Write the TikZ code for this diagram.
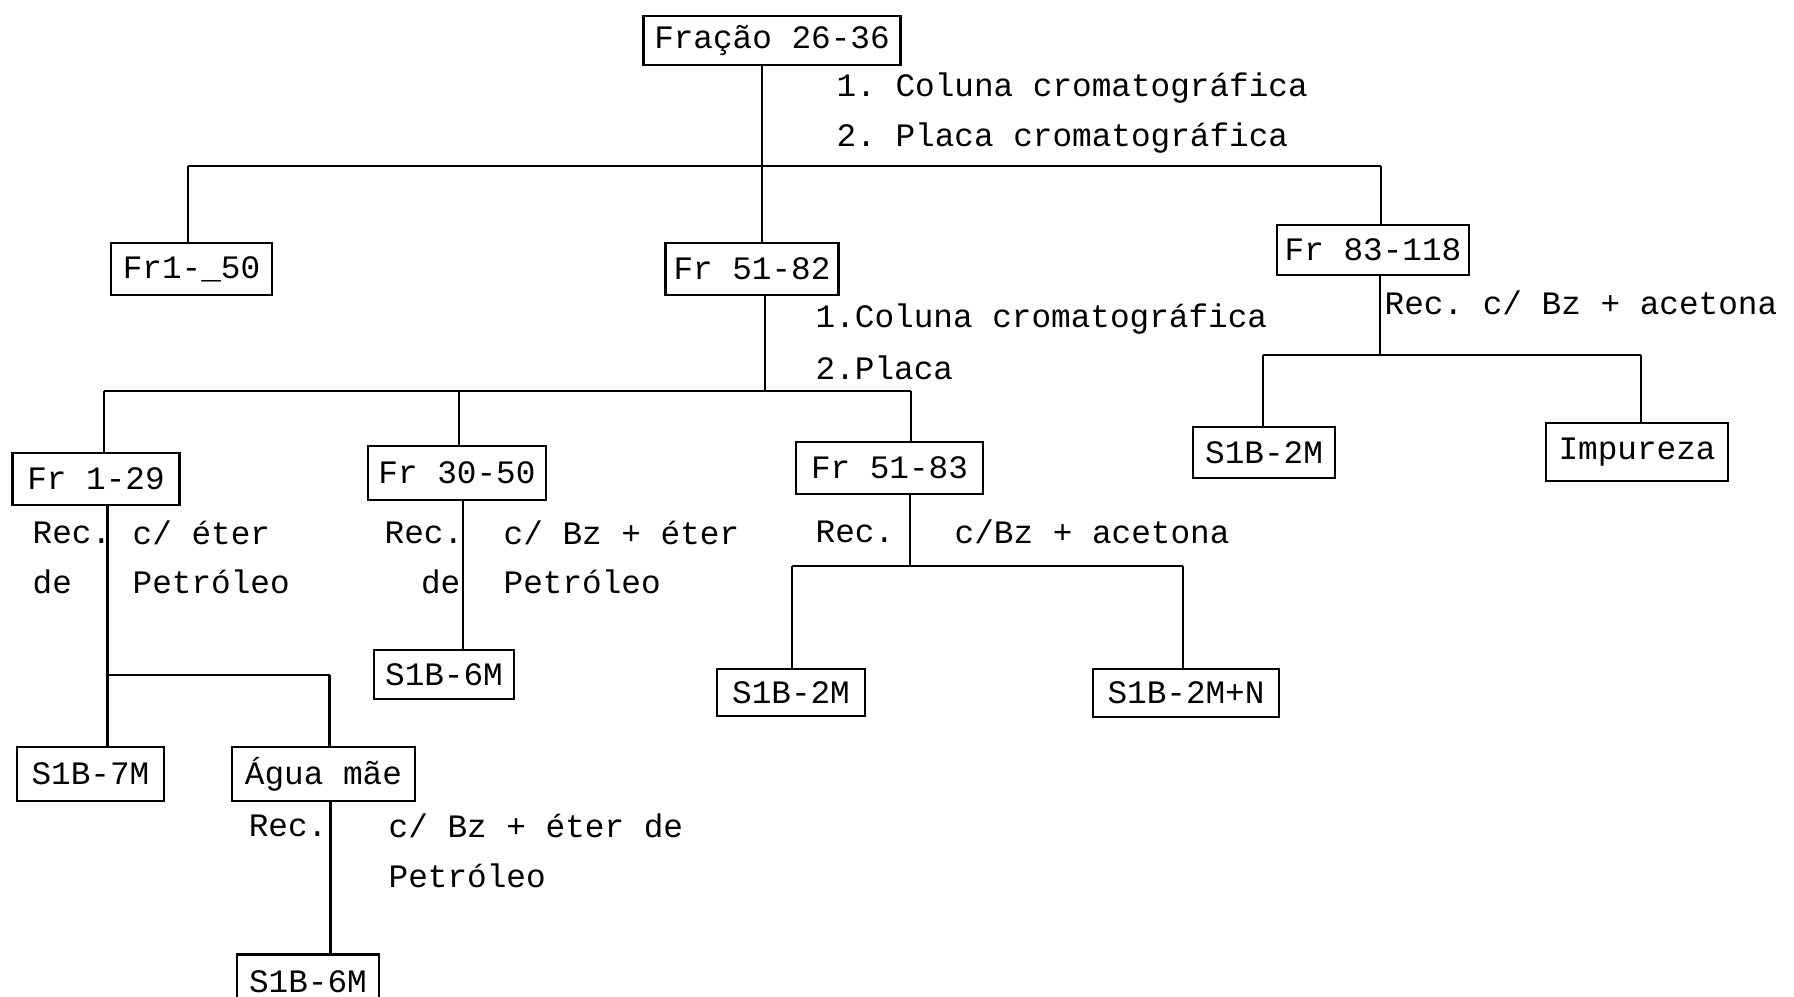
\documentclass[tikz,border=0pt]{standalone}
\usepackage{fontspec}
\setmainfont{Liberation Mono}
\newcommand\twfont{\fontsize{9.3}{11}\selectfont}
\frenchspacing
\begin{document}
\begin{tikzpicture}[x=0.01cm,y=-0.01cm,
  box/.style={draw, line width=0.8pt, inner sep=0pt, anchor=center, font=\twfont},
  lbl/.style={inner sep=0pt, anchor=west, font=\twfont},
  lble/.style={inner sep=0pt, anchor=east, font=\twfont},
  conn/.style={line width=0.6pt}]
\useasboundingbox (0,0) rectangle (1794,996);
% boxes
\node[box, minimum width=2.57cm, minimum height=0.49cm] (f2636) at (772,40.5) {Fração 26-36};
\node[box, minimum width=1.61cm, minimum height=0.52cm] (fr150) at (191.5,269) {Fr1-\_50};
\node[box, minimum width=1.73cm, minimum height=0.52cm] (fr5182) at (752,269) {Fr 51-82};
\node[box, minimum width=1.92cm, minimum height=0.50cm] (fr83118) at (1373,250) {Fr 83-118};
\node[box, minimum width=1.67cm, minimum height=0.52cm] (fr129) at (96,479) {Fr 1-29};
\node[box, minimum width=1.78cm, minimum height=0.54cm] (fr3050) at (457,473) {Fr 30-50};
\node[box, minimum width=1.87cm, minimum height=0.52cm] (fr5183) at (889.5,468) {Fr 51-83};
\node[box, minimum width=1.42cm, minimum height=0.51cm] (s2mR) at (1264,452.5) {S1B-2M};
\node[box, minimum width=1.82cm, minimum height=0.58cm] (imp) at (1637,452) {Impureza};
\node[box, minimum width=1.47cm, minimum height=0.54cm] (s7m) at (90.5,774) {S1B-7M};
\node[box, minimum width=1.83cm, minimum height=0.54cm] (agua) at (323.5,774) {Água mãe};
\node[box, minimum width=1.42cm, minimum height=0.55cm] (s6mB) at (308,982) {S1B-6M};
\node[box, minimum width=1.40cm, minimum height=0.49cm] (s6mM) at (444,674.5) {S1B-6M};
\node[box, minimum width=1.48cm, minimum height=0.47cm] (s2mM) at (791,692.5) {S1B-2M};
\node[box, minimum width=1.86cm, minimum height=0.48cm] (s2mN) at (1186,693) {S1B-2M+N};
% junctions
\coordinate (j0) at (762,166);
\coordinate (j0L) at (188,166);
\coordinate (j0R) at (1381,166);
\coordinate (j1) at (765,391);
\coordinate (j1L) at (104,391);
\coordinate (j1M) at (459,391);
\coordinate (j1R) at (911,391);
\coordinate (j2) at (1380,355);
\coordinate (j2L) at (1263,355);
\coordinate (j2R) at (1641,355);
\coordinate (j3) at (107.5,675);
\coordinate (j3R) at (329.5,675);
\coordinate (j4) at (910,566);
\coordinate (j4L) at (792,566);
\coordinate (j4R) at (1183,566);
\coordinate (xA) at (330.5,0);
\coordinate (xB) at (463,0);
% connectors
\draw[conn] (f2636.south -| j0) -- (fr5182.north -| j0);
\draw[conn] (j0L) -- (j0R);
\draw[conn] (j0L) -- (fr150.north -| j0L);
\draw[conn] (j0R) -- (fr83118.north -| j0R);
\draw[conn] (fr5182.south -| j1) -- (j1);
\draw[conn] (j1L) -- (j1R);
\draw[conn] (j1L) -- (fr129.north -| j1L);
\draw[conn] (j1M) -- (fr3050.north -| j1M);
\draw[conn] (j1R) -- (fr5183.north -| j1R);
\draw[conn] (fr83118.south -| j2) -- (j2);
\draw[conn] (j2L) -- (j2R);
\draw[conn] (j2L) -- (s2mR.north -| j2L);
\draw[conn] (j2R) -- (imp.north -| j2R);
\draw[conn] (fr129.south -| j3) -- (s7m.north -| j3);
\draw[conn] (j3) -- (j3R);
\draw[conn] (j3R) -- (agua.north -| j3R);
\draw[conn] (agua.south -| xA) -- (s6mB.north -| xA);
\draw[conn] (fr3050.south -| xB) -- (s6mM.north -| xB);
\draw[conn] (fr5183.south -| j4) -- (j4);
\draw[conn] (j4L) -- (j4R);
\draw[conn] (j4L) -- (s2mM.north -| j4L);
\draw[conn] (j4R) -- (s2mN.north -| j4R);
% labels
\node[lbl] (t1) at (836,88) {1. Coluna cromatográfica};
\node[lbl] (t2) at (836,138) {2. Placa cromatográfica};
\node[lbl] (t3) at (815,319) {1.Coluna cromatográfica};
\node[lbl] (t4) at (815,368) {2.Placa};
\node[lbl] (t5) at (1384,303) {Rec. c/ Bz + acetona};
\node[lbl] (t6) at (32,533) {Rec.};
\node[lbl] (t7) at (132,533) {c/ éter};
\node[lbl] (t8) at (32,582) {de};
\node[lbl] (t9) at (132,582) {Petróleo};
\node[lbl] (t10) at (384,533) {Rec.};
\node[lbl] (t11) at (503,533) {c/ Bz + éter};
\node[lble] (t12) at (461,582) {de};
\node[lbl] (t13) at (503,582) {Petróleo};
\node[lbl] (t14) at (815,532) {Rec.};
\node[lbl] (t15) at (954,532) {c/Bz + acetona};
\node[lble] (t16) at (328,826) {Rec.};
\node[lbl] (t17) at (388,826) {c/ Bz + éter de};
\node[lbl] (t18) at (388,876) {Petróleo};
\end{tikzpicture}
\end{document}
